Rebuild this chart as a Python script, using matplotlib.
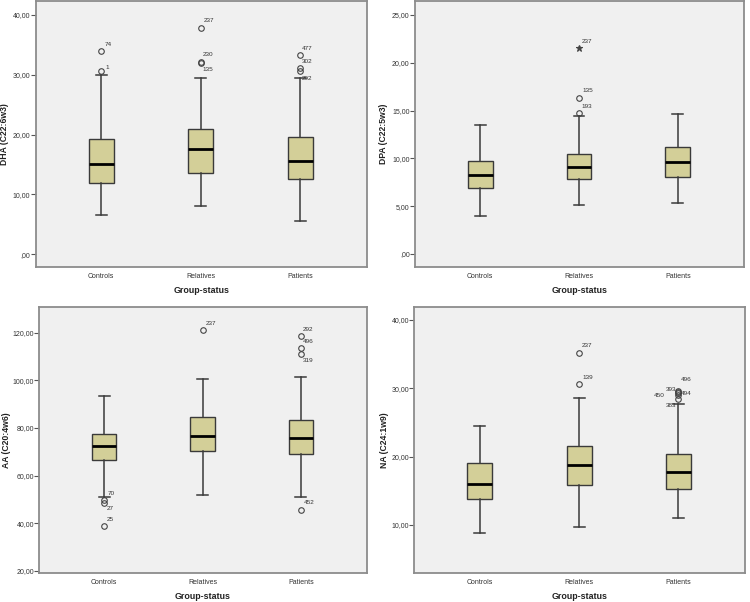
import matplotlib
matplotlib.use('Agg')
import matplotlib.pyplot as plt
from matplotlib.ticker import FuncFormatter

plt.rc('font', family=['Liberation Sans', 'DejaVu Sans'], size=5)

groups = ['Controls', 'Relatives', 'Patients']

# per group: lower whisker, Q1, median, Q3, upper whisker
dha_stats = [[6.55, 11.85, 15.05, 19.2, 29.9],
             [8.05, 13.65, 17.55, 20.95, 29.4],
             [5.5, 12.65, 15.65, 19.6, 29.5]]
dha_outliers = [[30.55, 33.9], [32.1, 31.9, 37.8], [33.3, 31.1, 30.55]]
dha_ids = [['1', '74'], ['230', '135', '237'], ['477', '302', '292']]

dpa_stats = [[4.0, 6.87, 8.23, 9.76, 13.49],
             [5.09, 7.81, 9.1, 10.49, 14.4],
             [5.3, 8.09, 9.59, 11.16, 14.68]]
dpa_outliers = [[], [14.75, 16.32], []]
dpa_ids = [[], ['193', '135'], []]
dpa_extremes = [[], [21.5], []]
dpa_extreme_ids = [[], ['237'], []]

aa_stats = [[51.2, 66.4, 72.3, 77.5, 93.3],
            [51.7, 70.2, 76.8, 84.8, 100.4],
            [51.05, 69.1, 75.7, 83.4, 101.5]]
aa_outliers = [[49.85, 48.6, 39.1], [121.1], [118.6, 113.5, 111.2, 45.7]]
aa_ids = [['70', '27', '25'], ['237'], ['292', '496', '319', '452']]

na_stats = [[8.83, 13.76, 16.05, 19.02, 24.54],
            [9.66, 15.8, 18.83, 21.56, 28.58],
            [11.02, 15.32, 17.8, 20.44, 27.76]]
na_outliers = [[], [30.6, 35.2], [29.56, 29.4, 29.3, 29.0, 28.5]]
na_ids = [[], ['139', '237'], ['496', '393', '494', '450', '383']]

# label placement in pixels relative to the point: (dx, dy, ha)
default_off = (3, 7, 'left')
label_off = {
    ('DHA', '1'): (4, 4, 'left'),
    ('DHA', '74'): (3, 7, 'left'),
    ('DHA', '230'): (2, 8, 'left'),
    ('DHA', '135'): (2, -6, 'left'),
    ('DHA', '477'): (2, 6, 'left'),
    ('DHA', '302'): (2, 7, 'left'),
    ('DHA', '292'): (2, -7, 'left'),
    ('DPA', '193'): (2, 6.5, 'left'),
    ('AA', '70'): (3, 6, 'left'),
    ('AA', '27'): (3, -6, 'left'),
    ('AA', '25'): (3, 6, 'left'),
    ('AA', '292'): (2, 7, 'left'),
    ('AA', '496'): (2, 7, 'left'),
    ('AA', '319'): (2, -7, 'left'),
    ('NA', '496'): (2, 12, 'left'),
    ('NA', '393'): (-2, 3, 'right'),
    ('NA', '494'): (2, 0, 'left'),
    ('NA', '450'): (-14, -0.5, 'right'),
    ('NA', '383'): (-2, -7, 'right'),
}

W, H = 750, 602
fill = '#D3CF98'
edge = '#3A3A3A'


def fmt(v, pos):
    s = f'{v:.2f}'.replace('.', ',')
    if s.startswith('0,'):
        s = s[1:]
    return s


def draw(rect, name, ylabel, stats, outliers, ids, ylim, yticks,
         extremes=None, extreme_ids=None, ylab_x=-0.08):
    x0, y0, x1, y1 = rect
    ax = fig.add_axes([x0 / W, 1 - y1 / H, (x1 - x0) / W, (y1 - y0) / H])
    ax.set_facecolor('#F0F0F0')
    bstats = []
    for s in stats:
        bstats.append(dict(whislo=s[0], q1=s[1], med=s[2], q3=s[3], whishi=s[4], fliers=[]))
    pos = [1, 2, 3]
    ax.bxp(bstats, positions=pos, widths=0.25, capwidths=0.11, patch_artist=True,
           showfliers=False,
           boxprops=dict(facecolor=fill, edgecolor=edge, linewidth=1.0),
           medianprops=dict(color='black', linewidth=2.0, solid_capstyle='butt'),
           whiskerprops=dict(color=edge, linewidth=1.1),
           capprops=dict(color=edge, linewidth=1.1))

    def mark(vals, labs, marker, ms):
        for p, vs, ls in zip(pos, vals, labs):
            if not vs:
                continue
            ax.plot([p] * len(vs), vs, linestyle='none', marker=marker, ms=ms,
                    mfc='none' if marker == 'o' else '#444444', mec='#444444', mew=0.8)
            for v, lab in zip(vs, ls):
                dx, dy, ha = label_off.get((name, lab), default_off)
                ax.annotate(lab, (p, v), xytext=(dx, dy), textcoords='offset pixels',
                            ha=ha, va='center', fontsize=4.6, color='#333333')

    mark(outliers, ids, 'o', 4)
    if extremes:
        mark(extremes, extreme_ids, '*', 4.5)

    ax.set_xlim(0.34, 3.67)
    ax.set_ylim(*ylim)
    ax.set_xticks(pos)
    ax.set_xticklabels(groups)
    ax.set_yticks(yticks)
    ax.yaxis.set_major_formatter(FuncFormatter(fmt))
    ax.tick_params(axis='x', length=0, pad=4.5, labelsize=5, labelcolor='#333333')
    ax.tick_params(axis='y', length=3.4, width=0.8, color='#555555', pad=0.5,
                   labelsize=5, labelcolor='#333333')
    for sp in ax.spines.values():
        sp.set_color('#8C8C8C')
        sp.set_linewidth(1.3)
    ax.set_ylabel(ylabel, fontsize=6.2, fontweight='bold', color='#222222')
    ax.yaxis.set_label_coords(ylab_x, 0.5)
    ax.set_xlabel('Group-status', fontsize=6.4, fontweight='bold', color='#222222')
    ax.xaxis.set_label_coords(0.5, -0.074)
    return ax


fig = plt.figure(figsize=(7.5, 6.02), dpi=100)

draw((35.7, 1, 366.7, 266.7), 'DHA', 'DHA (C22:6w3)', dha_stats, dha_outliers, dha_ids,
     (-2.07, 42.3), [0, 10, 20, 30, 40], ylab_x=-0.082)
draw((415, 1, 744, 266.7), 'DPA', 'DPA (C22:5w3)', dpa_stats, dpa_outliers, dpa_ids,
     (-1.33, 26.46), [0, 5, 10, 15, 20, 25], dpa_extremes, dpa_extreme_ids, ylab_x=-0.083)
draw((39.3, 306.7, 366.7, 572.7), 'AA', 'AA (C20:4w6)', aa_stats, aa_outliers, aa_ids,
     (19.3, 130.9), [20, 40, 60, 80, 100, 120], ylab_x=-0.087)
draw((414.3, 306.7, 745, 572.7), 'NA', 'NA (C24:1w9)', na_stats, na_outliers, na_ids,
     (3.02, 41.95), [10, 20, 30, 40], ylab_x=-0.075)

fig.savefig('out.png', dpi=100)
